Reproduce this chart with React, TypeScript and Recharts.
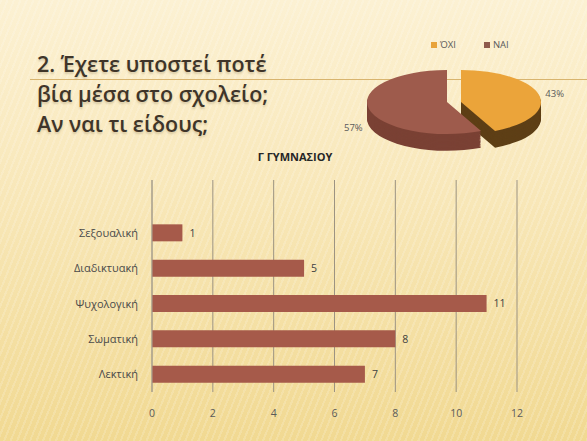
import React from "react";
import {
  BarChart,
  Bar,
  XAxis,
  YAxis,
  CartesianGrid,
  LabelList,
  PieChart,
  Pie,
  Cell,
} from "recharts";

// bar chart: top row is an empty slot, like the original slide
const categories = ["", "Σεξουαλική", "Διαδικτυακή", "Ψυχολογική", "Σωματική", "Λεκτική"];
const counts = [null, 1, 5, 11, 8, 7];
const xTicks = [0, 2, 4, 6, 8, 10, 12];

// pie chart
const pieNames = ["ΌΧΙ", "ΝΑΙ"];
const pieValues = [43, 57];
const pieTop = ["#eba43a", "#9e5b4c"];
const pieSide = ["#5e3f16", "#7a4134"];
const pieLegend = ["#e8a33a", "#8e5a4c"];

const barData = categories.map((name, i) => ({ name, value: counts[i] }));
const pieData = pieNames.map((name, i) => ({ name, value: pieValues[i] }));

const FONT = "'Open Sans', 'Noto Sans', sans-serif";
const SQUASH = 0.4;
const DEPTH = 42;
const explode = [7, -7];
const depthLayers: number[] = [];
for (let d = DEPTH; d > 0; d -= 3) depthLayers.push(d);

function PieLabel(props: any) {
  const { cx, cy, midAngle, outerRadius, value } = props;
  const rad = (-midAngle * Math.PI) / 180;
  const r = outerRadius + 16;
  const x = cx + r * Math.cos(rad);
  const s = Math.sin(rad);
  const y = cy + r * s + (s > 0 ? DEPTH : 0);
  return (
    <text
      transform={`translate(${x},${y}) scale(1,${1 / SQUASH})`}
      textAnchor="middle"
      dominantBaseline="central"
      fill="#5a5a5a"
      fontSize={9.5}
      fontFamily={FONT}
    >
      {value}%
    </text>
  );
}

function Pie3D() {
  const sliceCells = (i: number, colors: string[]) =>
    pieData.map((_, j) => (
      <Cell key={j} fill={j === i ? colors[i] : "transparent"} stroke="none" />
    ));

  return (
    <div
      style={{
        position: "absolute",
        left: 329,
        top: 60,
        transform: `scaleY(${SQUASH})`,
        transformOrigin: "0 0",
      }}
    >
      <PieChart width={240} height={260}>
        {depthLayers.map((d) =>
          pieData.map((_, i) => (
            <Pie
              key={`side-${d}-${i}`}
              data={pieData}
              dataKey="value"
              cx={120 + explode[i]}
              cy={100 + d}
              outerRadius={80}
              startAngle={90}
              endAngle={-270}
              stroke="none"
              isAnimationActive={false}
            >
              {sliceCells(i, pieSide)}
            </Pie>
          ))
        )}
        {pieData.map((_, i) => (
          <Pie
            key={`top-${i}`}
            data={pieData}
            dataKey="value"
            cx={120 + explode[i]}
            cy={100}
            outerRadius={80}
            startAngle={90}
            endAngle={-270}
            stroke="none"
            labelLine={false}
            label={(p: any) => (p.index === i ? <PieLabel {...p} /> : null)}
            isAnimationActive={false}
          >
            {sliceCells(i, pieTop)}
          </Pie>
        ))}
      </PieChart>
    </div>
  );
}

export default function App() {
  return (
    <div
      style={{
        position: "absolute",
        left: 0,
        top: 0,
        width: 587,
        height: 441,
        overflow: "hidden",
        fontFamily: FONT,
        background:
          "repeating-linear-gradient(112deg, rgba(255,255,255,0.16) 0px, rgba(255,255,255,0.16) 2px, rgba(255,255,255,0) 2px, rgba(255,255,255,0) 6px), linear-gradient(to bottom, #fcf1d3 0%, #f8e7b8 45%, #f1d992 100%)",
      }}
    >
      <div
        style={{
          position: "absolute",
          left: 30,
          right: 0,
          top: 79,
          height: 1,
          background: "#d8b46e",
        }}
      />
      <div
        style={{
          position: "absolute",
          left: 37,
          top: 49,
          fontSize: 21.5,
          lineHeight: "30px",
          fontWeight: 600,
          color: "#3f3529",
          textShadow: "0 2px 2px rgba(120,100,60,0.25)",
        }}
      >
        <div>2. Έχετε υποστεί ποτέ</div>
        <div>βία μέσα στο σχολείο;</div>
        <div>Αν ναι τι είδους;</div>
      </div>

      <div
        style={{
          position: "absolute",
          left: 431,
          top: 38,
          display: "flex",
          gap: 28,
          fontSize: 9.5,
          color: "#5a5a5a",
        }}
      >
        {pieNames.map((n, i) => (
          <span key={n} style={{ display: "flex", alignItems: "center", gap: 3 }}>
            <span style={{ width: 6, height: 6, background: pieLegend[i] }} />
            {n}
          </span>
        ))}
      </div>

      <Pie3D />

      <div
        style={{
          position: "absolute",
          left: 195,
          top: 150,
          width: 200,
          textAlign: "center",
          fontSize: 11,
          lineHeight: "14px",
          fontWeight: 700,
          color: "#262626",
        }}
      >
        Γ ΓΥΜΝΑΣΙΟΥ
      </div>

      <div style={{ position: "absolute", left: 0, top: 150 }}>
        <BarChart
          width={587}
          height={280}
          data={barData}
          layout="vertical"
          margin={{ top: 30, right: 70, bottom: 8, left: 0 }}
        >
          <CartesianGrid horizontal={false} stroke="#9c9382" />
          <XAxis
            type="number"
            domain={[0, 12]}
            ticks={xTicks}
            axisLine={false}
            tickLine={false}
            tickMargin={12}
            height={30}
            tick={{ fill: "#5a5a5a", fontSize: 10.5, fontFamily: FONT }}
          />
          <YAxis
            type="category"
            dataKey="name"
            width={152}
            axisLine={{ stroke: "#aaa290" }}
            tickLine={false}
            tickSize={0}
            tickMargin={14}
            tick={{ fill: "#4a4a4a", fontSize: 11, fontFamily: FONT }}
          />
          <Bar dataKey="value" fill="#a65a4a" barSize={17} isAnimationActive={false}>
            <LabelList
              dataKey="value"
              position="right"
              offset={7}
              fill="#404040"
              fontSize={10.5}
              fontFamily={FONT}
            />
          </Bar>
        </BarChart>
      </div>
    </div>
  );
}
